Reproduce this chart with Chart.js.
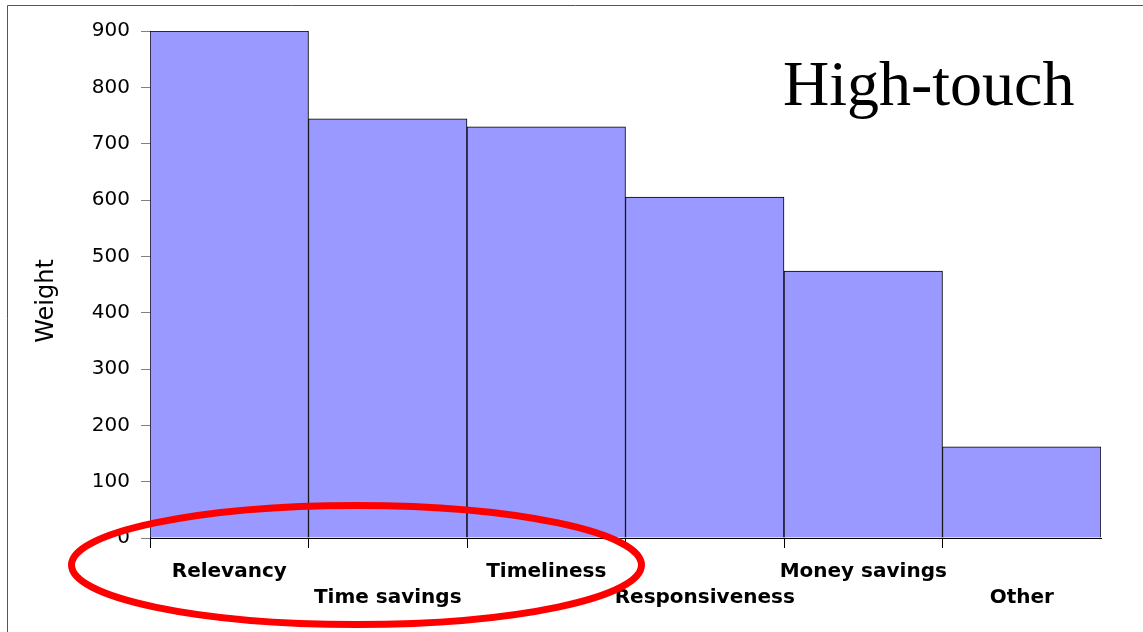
<!DOCTYPE html>
<html>
<head>
<meta charset="utf-8">
<script src="https://cdn.jsdelivr.net/npm/chart.js@4/dist/chart.umd.min.js"></script>
<style>
  html, body { margin: 0; padding: 0; background: #ffffff; }
  #wrap { position: relative; width: 1143px; height: 632px; }
</style>
</head>
<body>
<div id="wrap"><canvas id="c" width="1143" height="632"></canvas></div>
<script>
const categories = ['Relevancy', 'Time savings', 'Timeliness', 'Responsiveness', 'Money savings', 'Other'];
const weights = [900, 744, 730, 605, 474, 162];
const yTicks = [0, 100, 200, 300, 400, 500, 600, 700, 800, 900];
const chartTitle = 'High-touch';
const yTitle = 'Weight';

const decorPlugin = {
  id: 'decor',
  beforeDraw(chart) {
    const ctx = chart.ctx;
    ctx.save();
    ctx.fillStyle = '#ffffff';
    ctx.fillRect(0, 0, chart.width, chart.height);
    ctx.strokeStyle = '#555555';
    ctx.lineWidth = 1;
    ctx.beginPath();
    ctx.moveTo(7.5, chart.height);
    ctx.lineTo(7.5, 5.5);
    ctx.lineTo(chart.width, 5.5);
    ctx.stroke();
    ctx.restore();
  },
  afterDraw(chart) {
    const ctx = chart.ctx;
    ctx.save();
    ctx.fillStyle = '#000000';
    ctx.font = '64px "Liberation Serif", "Times New Roman", serif';
    ctx.textAlign = 'left';
    ctx.textBaseline = 'alphabetic';
    ctx.fillText(chartTitle, 783, 105);
    // rotated y-axis title
    ctx.save();
    ctx.translate(47, 301);
    ctx.rotate(-Math.PI / 2);
    ctx.font = '24px "DejaVu Sans", Verdana, sans-serif';
    ctx.textAlign = 'center';
    ctx.textBaseline = 'middle';
    ctx.fillText(yTitle, 0, 0);
    ctx.restore();
    // red annotation ellipse
    ctx.strokeStyle = '#ff0000';
    ctx.lineWidth = 7;
    ctx.beginPath();
    ctx.ellipse(356.5, 565, 285, 59.5, 0, 0, Math.PI * 2);
    ctx.stroke();
    ctx.restore();
  }
};

new Chart(document.getElementById('c'), {
  type: 'bar',
  data: {
    labels: categories,
    datasets: [{
      data: weights,
      backgroundColor: '#9999ff',
      borderColor: '#000000',
      borderWidth: 1,
      categoryPercentage: 1.0,
      barPercentage: 1.0
    }]
  },
  options: {
    responsive: false,
    animation: false,
    devicePixelRatio: 1,
    layout: { padding: { top: 31, right: 42, bottom: 0, left: 0 } },
    plugins: { legend: { display: false }, tooltip: { enabled: false }, title: { display: false } },
    scales: {
      x: {
        afterFit(scale) { scale.height = 94; },
        grid: {
          offset: true,
          drawOnChartArea: false,
          drawTicks: true,
          tickLength: 10,
          color: (ctx) => ctx.type === 'tick' ? '#000000' : 'rgba(0,0,0,0)'
        },
        border: { display: true, color: '#000000', width: 1 },
        ticks: {
          autoSkip: false,
          maxRotation: 0,
          minRotation: 0,
          padding: 11,
          color: '#000000',
          font: { family: '"DejaVu Sans", Verdana, sans-serif', size: 20, weight: 'bold', lineHeight: 1.3 },
          callback(value, index) {
            const name = categories[index];
            return index % 2 === 0 ? [name] : ['', name];
          }
        }
      },
      y: {
        min: 0,
        max: 900,
        afterFit(scale) { scale.width = 150; },
        afterBuildTicks(scale) { scale.ticks = yTicks.map(v => ({ value: v })); },
        grid: {
          drawOnChartArea: false,
          drawTicks: true,
          tickLength: 9,
          color: '#808080'
        },
        border: { display: true, color: '#000000', width: 1 },
        ticks: {
          padding: 11,
          color: '#000000',
          font: { family: '"DejaVu Sans", Verdana, sans-serif', size: 20 }
        },
        title: { display: false }
      }
    }
  },
  plugins: [decorPlugin]
});
</script>
</body>
</html>
